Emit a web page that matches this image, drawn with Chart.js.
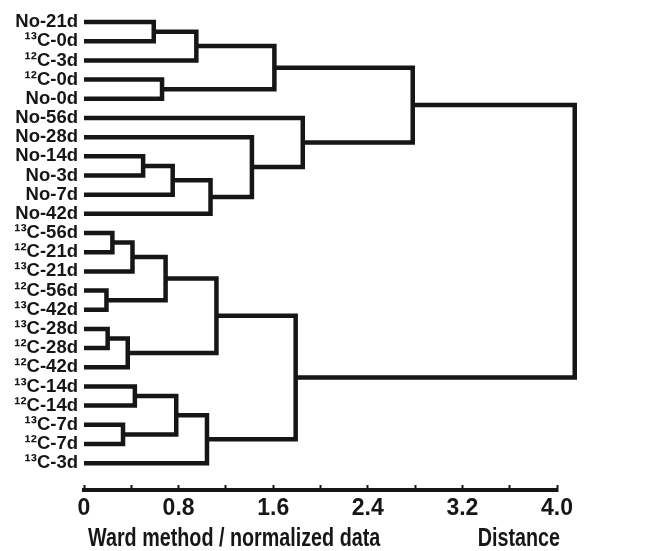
<!DOCTYPE html>
<html>
<head>
<meta charset="utf-8">
<script src="https://cdn.jsdelivr.net/npm/chart.js@4/dist/chart.umd.min.js"></script>
<style>
  html, body { margin: 0; padding: 0; background: #fff; }
  #wrap { width: 657px; height: 551px; }
</style>
</head>
<body>
<div id="wrap"><canvas id="chart" width="657" height="551"></canvas></div>
<script>
// leaves, top to bottom
const leafLabels = [
  'No-21d', '¹³C-0d', '¹²C-3d', '¹²C-0d', 'No-0d',
  'No-56d', 'No-28d', 'No-14d', 'No-3d', 'No-7d', 'No-42d',
  '¹³C-56d', '¹²C-21d', '¹³C-21d', '¹²C-56d', '¹³C-42d',
  '¹³C-28d', '¹²C-28d', '¹²C-42d',
  '¹³C-14d', '¹²C-14d', '¹³C-7d', '¹²C-7d', '¹³C-3d'
];

// linkage: merge k creates node 24 + k from nodes mergeA[k] and mergeB[k]
const mergeA = [0, 24, 3, 25, 7, 28, 29, 6, 5, 27, 11, 34, 14, 35, 16, 38, 37, 19, 21, 41, 43, 40, 33];
const mergeB = [1, 2, 4, 26, 8, 9, 10, 30, 31, 32, 12, 13, 15, 36, 17, 18, 39, 20, 22, 42, 23, 44, 45];
const mergeHeight = [0.59, 0.95, 0.66, 1.61, 0.50, 0.75, 1.07, 1.42, 1.85, 2.78,
  0.24, 0.41, 0.19, 0.69, 0.20, 0.37, 1.12, 0.43, 0.33, 0.78, 1.04, 1.79, 4.15];

const tickValues = [0, 0.8, 1.6, 2.4, 3.2, 4.0];
const tickLabels = ['0', '0.8', '1.6', '2.4', '3.2', '4.0'];

const axisTitle = 'Ward method / normalized data';
const axisUnit = 'Distance';

const ink = '#161616';

// node positions: leaves sit at their row index, height 0
const nodeY = leafLabels.map((_, i) => i);
const nodeH = leafLabels.map(() => 0);

const datasets = [];
mergeA.forEach((a, k) => {
  const b = mergeB[k];
  const h = mergeHeight[k];
  datasets.push({
    data: [
      { x: nodeH[a], y: nodeY[a] },
      { x: h, y: nodeY[a] },
      { x: h, y: nodeY[b] },
      { x: nodeH[b], y: nodeY[b] }
    ],
    showLine: true,
    borderColor: ink,
    borderWidth: 4.5,
    borderJoinStyle: 'miter',
    borderCapStyle: 'butt',
    pointRadius: 0,
    tension: 0,
    clip: false
  });
  nodeY.push((nodeY[a] + nodeY[b]) / 2);
  nodeH.push(h);
});

// bottom caption, set in a narrow bold face like the original
const captionPlugin = {
  id: 'caption',
  afterDraw(chart) {
    const ctx = chart.ctx;
    const area = chart.chartArea;
    const squeeze = 0.79;
    ctx.save();
    ctx.fillStyle = ink;
    ctx.font = 'bold 25px "Liberation Sans", Arial, sans-serif';
    ctx.textBaseline = 'alphabetic';
    ctx.scale(squeeze, 1);
    ctx.textAlign = 'left';
    ctx.fillText(axisTitle, (area.left + 4) / squeeze, 546);
    ctx.textAlign = 'right';
    ctx.fillText(axisUnit, (area.right + 3) / squeeze, 546);
    ctx.restore();
  }
};

new Chart(document.getElementById('chart'), {
  type: 'scatter',
  data: { datasets: datasets },
  plugins: [captionPlugin],
  options: {
    responsive: false,
    animation: false,
    layout: { padding: { top: 10, right: 100, bottom: 0, left: 0 } },
    plugins: {
      legend: { display: false },
      tooltip: { enabled: false }
    },
    scales: {
      x: {
        type: 'linear',
        position: 'bottom',
        min: 0,
        max: 4,
        afterFit: (scale) => { scale.height = 61; },
        border: { display: true, color: ink, width: 4 },
        grid: {
          drawOnChartArea: false,
          drawTicks: true,
          tickLength: -5,
          tickWidth: 2,
          tickColor: ink
        },
        ticks: {
          stepSize: 0.4,
          autoSkip: false,
          maxRotation: 0,
          padding: 10,
          color: ink,
          font: { family: '"Liberation Sans", Arial, sans-serif', size: 23, weight: 'bold' },
          callback: (v) => {
            const i = tickValues.findIndex(t => Math.abs(t - v) < 1e-6);
            return i >= 0 ? tickLabels[i] : '';
          }
        }
      },
      y: {
        type: 'linear',
        reverse: true,
        min: -0.26,
        max: 24.4,
        afterFit: (scale) => { scale.width = 84; },
        afterBuildTicks: (scale) => {
          scale.ticks = leafLabels.map((_, i) => ({ value: i }));
        },
        border: { display: false },
        grid: { display: false, drawTicks: false },
        ticks: {
          autoSkip: false,
          padding: 6,
          color: ink,
          font: { family: '"Liberation Sans", Arial, sans-serif', size: 18.5, weight: 'bold' },
          callback: (v) => leafLabels[v]
        }
      }
    }
  }
});
</script>
</body>
</html>
